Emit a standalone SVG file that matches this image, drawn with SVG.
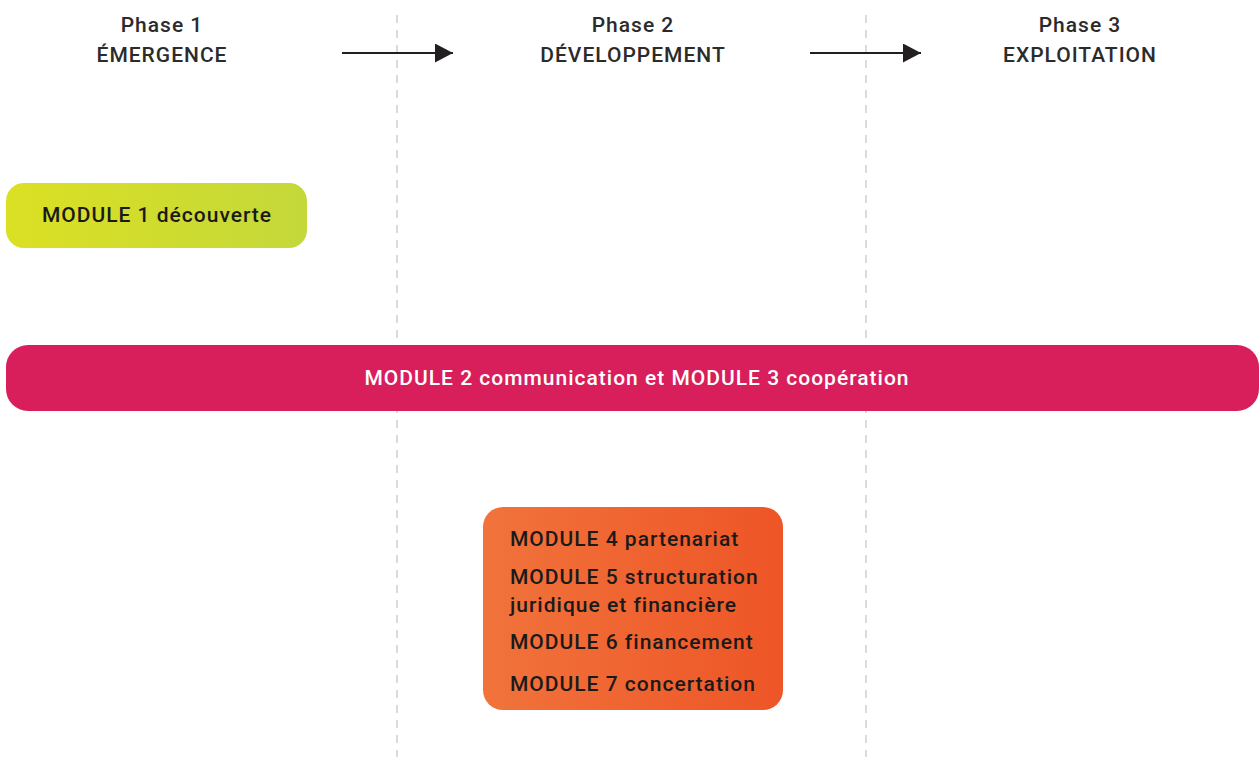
<svg xmlns="http://www.w3.org/2000/svg" width="1259" height="762" viewBox="0 0 1259 762">
<defs>
<linearGradient id="g1" x1="0" y1="0" x2="1" y2="0"><stop offset="0" stop-color="#dbe023"/><stop offset="1" stop-color="#c4d83a"/></linearGradient>
<linearGradient id="g3" x1="0" y1="0" x2="1" y2="0"><stop offset="0" stop-color="#f1733b"/><stop offset="1" stop-color="#ee5527"/></linearGradient>
<marker id="ah" markerWidth="20" markerHeight="20" refX="18" refY="9.5" orient="auto" markerUnits="userSpaceOnUse"><path d="M0,0 L18,9.5 L0,19 Z" fill="#231f20"/></marker>
<style>
text{font-family:Roboto,"Liberation Sans",sans-serif;font-weight:500;font-size:21px;letter-spacing:1px}
.ph{fill:#2b2b2b;text-anchor:middle}
.m{fill:#1a1a1a}
.w{fill:#ffffff;text-anchor:middle}
.div{stroke:#cfcfcf;stroke-width:1.5;stroke-dasharray:8,7}
.arr{stroke:#231f20;stroke-width:2;fill:none}
</style>
</defs>
<g id="dividers">
<line class="div" x1="397" y1="15" x2="397" y2="757"/>
<line class="div" x1="866" y1="15" x2="866" y2="757"/>
</g>
<g id="phase1"><text class="ph" x="162" y="32">Phase 1</text><text class="ph" x="162" y="62">ÉMERGENCE</text></g>
<g id="phase2"><text class="ph" x="633" y="32">Phase 2</text><text class="ph" x="633" y="62">DÉVELOPPEMENT</text></g>
<g id="phase3"><text class="ph" x="1080" y="32">Phase 3</text><text class="ph" x="1080" y="62">EXPLOITATION</text></g>
<g id="connectors">
<line class="arr" x1="342" y1="53" x2="453" y2="53" marker-end="url(#ah)"/>
<line class="arr" x1="810" y1="53" x2="921" y2="53" marker-end="url(#ah)"/>
</g>
<g id="module1"><rect x="6" y="183" width="301" height="65" rx="18" fill="url(#g1)"/><text class="m" x="157" y="222" text-anchor="middle">MODULE 1 découverte</text></g>
<g id="module23"><rect x="6" y="345" width="1253" height="66" rx="22" fill="#d81e5b"/><text class="w" x="637" y="385">MODULE 2 communication et MODULE 3 coopération</text></g>
<g id="module4to7"><rect x="483" y="507" width="300" height="203" rx="20" fill="url(#g3)"/>
<text class="m" x="510" y="546">MODULE 4 partenariat</text>
<text class="m" x="510" y="584">MODULE 5 structuration</text>
<text class="m" x="510" y="612">juridique et financière</text>
<text class="m" x="510" y="649">MODULE 6 financement</text>
<text class="m" x="510" y="691">MODULE 7 concertation</text>
</g>
</svg>
